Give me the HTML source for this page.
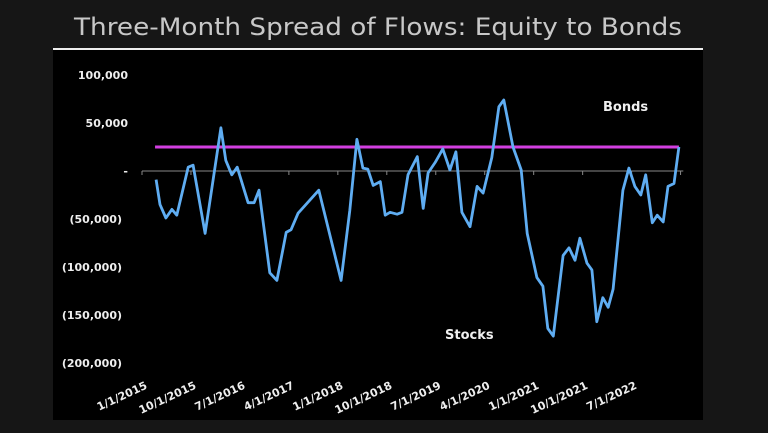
<!DOCTYPE html>
<html><head><meta charset="utf-8"><style>
html,body{margin:0;padding:0;background:#161616;}
svg{display:block;}
</style></head><body>
<svg width="768" height="433" viewBox="0 0 768 433" id="chart">
<rect x="0" y="0" width="768" height="433" fill="#161616"/>
<text x="378" y="35" text-anchor="middle" font-family="DejaVu Sans, sans-serif" font-size="24" fill="#c8c8c8" textLength="608" lengthAdjust="spacingAndGlyphs">Three-Month Spread of Flows: Equity to Bonds</text>
<rect x="53" y="50" width="650" height="370" fill="#000"/>
<line x1="53" y1="49" x2="703" y2="49" stroke="#eee" stroke-width="2"/>
<g id="axes"></g>
<text x="603" y="111" font-family="DejaVu Sans, sans-serif" font-weight="bold" font-size="13" fill="#f0f0f0">Bonds</text>
<text x="445" y="339" font-family="DejaVu Sans, sans-serif" font-weight="bold" font-size="13" fill="#f0f0f0">Stocks</text>
</svg>
<script>
const months=[2.6,3.3,4.4,5.5,6.4,8.5,9.4,11.6,14.5,15.4,16.5,17.5,19.5,20.6,21.5,23.5,24.8,26.5,27.4,28.7,32.5,36.6,38.2,39.5,40.6,41.5,42.5,43.8,44.7,45.6,46.9,47.8,48.9,50.6,51.7,52.6,53.9,55.3,56.6,57.7,58.8,60.3,61.6,62.7,64.3,65.6,66.5,68.2,69.7,70.8,72.6,73.7,74.6,75.6,77.4,78.5,79.6,80.5,81.8,82.7,83.6,84.7,85.7,86.6,88.4,89.5,90.6,91.7,92.6,93.8,94.7,95.8,96.7,97.8,98.7];
const values=[-9,-35,-49,-40,-46,4,6,-65,45,11,-4,4,-33,-33,-20,-106,-114,-64,-61,-44,-20,-114,-41,33,3,2,-15,-11,-46,-43,-45,-43,-4,15,-39,-2,9,23,1,20,-43,-58,-16,-23,14,67,74,25,1,-65,-111,-120,-164,-172,-88,-80,-93,-70,-96,-103,-157,-132,-142,-123,-20,3,-16,-25,-4,-54,-46,-53,-16,-13,25];
const threshold=25;
const yTicks=[100,50,0,-50,-100,-150,-200];
const yTickLabels=["100,000","50,000","-","(50,000)","(100,000)","(150,000)","(200,000)"];
const xLabels=["1/1/2015","10/1/2015","7/1/2016","4/1/2017","1/1/2018","10/1/2018","7/1/2019","4/1/2020","1/1/2021","10/1/2021","7/1/2022"];
const NS="http://www.w3.org/2000/svg";
const g=document.getElementById('axes');
function X(m){return 142+m*5.44;}
function Y(v){return 171-v*0.96;}
function mk(t,a){const e=document.createElementNS(NS,t);for(const k in a)e.setAttribute(k,a[k]);g.appendChild(e);return e;}
let ax=mk('line',{x1:X(0),y1:Y(0),x2:X(99.5),y2:Y(0),stroke:'#888','stroke-width':1});


for(let i=0;i<=11;i++){
  const t=mk('line',{x1:X(i*9),y1:Y(0),x2:X(i*9),y2:Y(0)+4,stroke:'#888','stroke-width':1});
  
  
}
yTicks.forEach((v,i)=>{
  const t=mk('text',{x:i<3?128:122,y:Y(v)+4,'text-anchor':'end','font-family':'DejaVu Sans, sans-serif','font-weight':'bold','font-size':'11',fill:'#eee'});
  t.textContent=yTickLabels[i];
  
  
});
xLabels.forEach((s,i)=>{
  const x=X(i*9)+6,y=388;
  const t=mk('text',{x:x,y:y,'text-anchor':'end','font-family':'DejaVu Sans, sans-serif','font-weight':'bold','font-size':'11',fill:'#eee',transform:`rotate(-25 ${x} ${y})`});
  t.textContent=s;
  
  
});
const th=mk('line',{x1:X(2.4),y1:Y(threshold),x2:X(98.7),y2:Y(threshold),stroke:'#d23fe0','stroke-width':3});


const d=months.map((m,i)=>(i?'L':'M')+X(m).toFixed(1)+','+Y(values[i]).toFixed(1)).join(' ');
const p=mk('path',{d:d,fill:'none',stroke:'#5fadf2','stroke-width':2.8,'stroke-linejoin':'round'});


</script>
</body></html>
